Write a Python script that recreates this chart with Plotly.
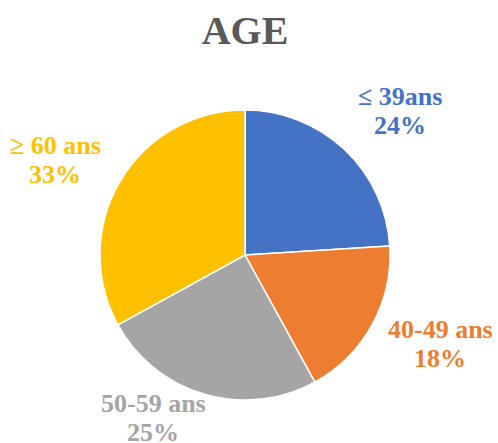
import math
import plotly.graph_objects as go

# ---- data ----
categories = ["≤ 39ans", "40-49 ans", "50-59 ans", "≥ 60 ans"]
values = [24, 18, 25, 33]
colors = ["#4472C4", "#ED7D31", "#A5A5A5", "#FFC000"]
title_text = "AGE"

# ---- layout constants ----
W, H = 498, 443
CX, CY, R = 245, 255, 145          # pie centre / radius in pixels
LABEL_DIST = 210                    # distance of label block centre from pie centre
LINE_GAP = 29                       # distance between the two label lines
# per-label fine nudges (pixels: right, up)
label_nudge = [(11, -9), (11, 12), (-33, 39), (-9, -12)]
FONT = "Liberation Serif, Times New Roman, serif"

fig = go.Figure(go.Pie(
    labels=categories,
    values=values,
    marker=dict(colors=colors, line=dict(color="white", width=1.5)),
    sort=False,
    direction="clockwise",
    rotation=0,
    textinfo="none",
    hoverinfo="label+percent",
    domain=dict(x=[(CX - R) / W, (CX + R) / W],
                y=[1 - (CY + R) / H, 1 - (CY - R) / H]),
    showlegend=False,
))

total = sum(values)
cum = 0
annotations = []
for i, (cat, v, col) in enumerate(zip(categories, values, colors)):
    mid = (cum + v / 2) / total * 2 * math.pi
    cum += v
    dx, dy = math.sin(mid), -math.cos(mid)      # screen direction (y down)
    px = CX + LABEL_DIST * dx
    py = CY + LABEL_DIST * dy
    pct = round(v / total * 100)
    for text, off in ((cat, LINE_GAP / 2), (f"{pct}%", -LINE_GAP / 2)):
        annotations.append(dict(
            x=px / W, y=1 - py / H, xref="paper", yref="paper",
            text=f"<b>{text}</b>", showarrow=False,
            xanchor="center", yanchor="middle",
            xshift=label_nudge[i][0], yshift=label_nudge[i][1] + off,
            font=dict(family=FONT, size=26, color=col),
        ))

fig.update_layout(
    width=W, height=H,
    margin=dict(l=0, r=0, t=0, b=0),
    paper_bgcolor="white",
    plot_bgcolor="white",
    title=dict(
        text=f"<b>{title_text}</b>",
        x=CX / W, xanchor="center", xref="paper",
        y=1 - 30 / H, yanchor="middle", yref="container",
        font=dict(family=FONT, size=40, color="#595959"),
    ),
    annotations=annotations,
)

fig.write_html("out.html", config={"displayModeBar": False},
               post_script="document.body.style.margin='0';")
